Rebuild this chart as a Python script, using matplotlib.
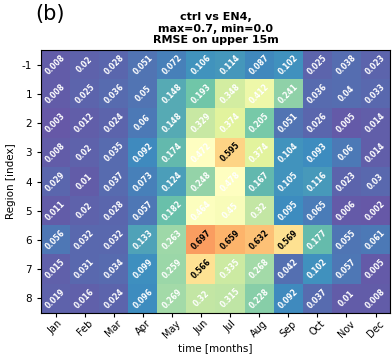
import numpy as np
import matplotlib.pyplot as plt

months = ['Jan', 'Feb', 'Mar', 'Apr', 'May', 'Jun', 'Jul', 'Aug', 'Sep', 'Oct', 'Nov', 'Dec']
regions = ['-1', '1', '2', '3', '4', '5', '6', '7', '8']

# RMSE per region (rows) and month (columns)
rmse = np.array([
    [0.008, 0.02, 0.028, 0.051, 0.072, 0.106, 0.114, 0.087, 0.102, 0.025, 0.038, 0.023],
    [0.008, 0.025, 0.036, 0.05, 0.148, 0.193, 0.348, 0.412, 0.241, 0.036, 0.04, 0.033],
    [0.003, 0.012, 0.024, 0.06, 0.148, 0.329, 0.374, 0.205, 0.051, 0.026, 0.005, 0.014],
    [0.008, 0.02, 0.035, 0.092, 0.174, 0.472, 0.595, 0.374, 0.104, 0.093, 0.06, 0.014],
    [0.029, 0.01, 0.037, 0.073, 0.124, 0.248, 0.478, 0.167, 0.105, 0.116, 0.023, 0.03],
    [0.011, 0.02, 0.028, 0.057, 0.182, 0.464, 0.45, 0.32, 0.095, 0.065, 0.006, 0.002],
    [0.056, 0.032, 0.032, 0.133, 0.263, 0.697, 0.659, 0.632, 0.569, 0.177, 0.055, 0.061],
    [0.015, 0.031, 0.034, 0.099, 0.259, 0.566, 0.335, 0.268, 0.042, 0.102, 0.057, 0.005],
    [0.019, 0.016, 0.024, 0.096, 0.269, 0.32, 0.315, 0.228, 0.092, 0.037, 0.01, 0.008],
])

fig = plt.figure(figsize=(3.92, 3.58), dpi=100)
ax = fig.add_axes([0.105, 0.126, 0.89, 0.734])

ax.imshow(rmse, cmap='Spectral_r', vmin=0, vmax=0.95, aspect='auto', alpha=0.95)

# valores dentro de cada celda
for i in range(rmse.shape[0]):
    for j in range(rmse.shape[1]):
        v = rmse[i, j]
        col = 'black' if v > 0.5 else 'white'
        ax.text(j, i, f'{v:g}', ha='center', va='center', rotation=45,
                fontsize=5.5, fontweight='bold', color=col)

ax.set_xticks(range(len(months)))
ax.set_xticklabels(months, rotation=45, fontsize=7)
ax.set_yticks(range(len(regions)))
ax.set_yticklabels(regions, fontsize=7.5)
ax.tick_params(axis='x', pad=1, length=3)
ax.tick_params(axis='y', length=3)
ax.set_xlabel('time [months]', fontsize=7.5, labelpad=2)
ax.set_ylabel('Region [index]', fontsize=7.5)
ax.set_title('ctrl vs EN4,\nmax=0.7, min=0.0\nRMSE on upper 15m',
             fontsize=8, fontweight='bold', pad=5)

fig.text(0.09, 0.962, '(b)', fontsize=15, va='center', ha='left')

fig.savefig('out.png', dpi=100)
